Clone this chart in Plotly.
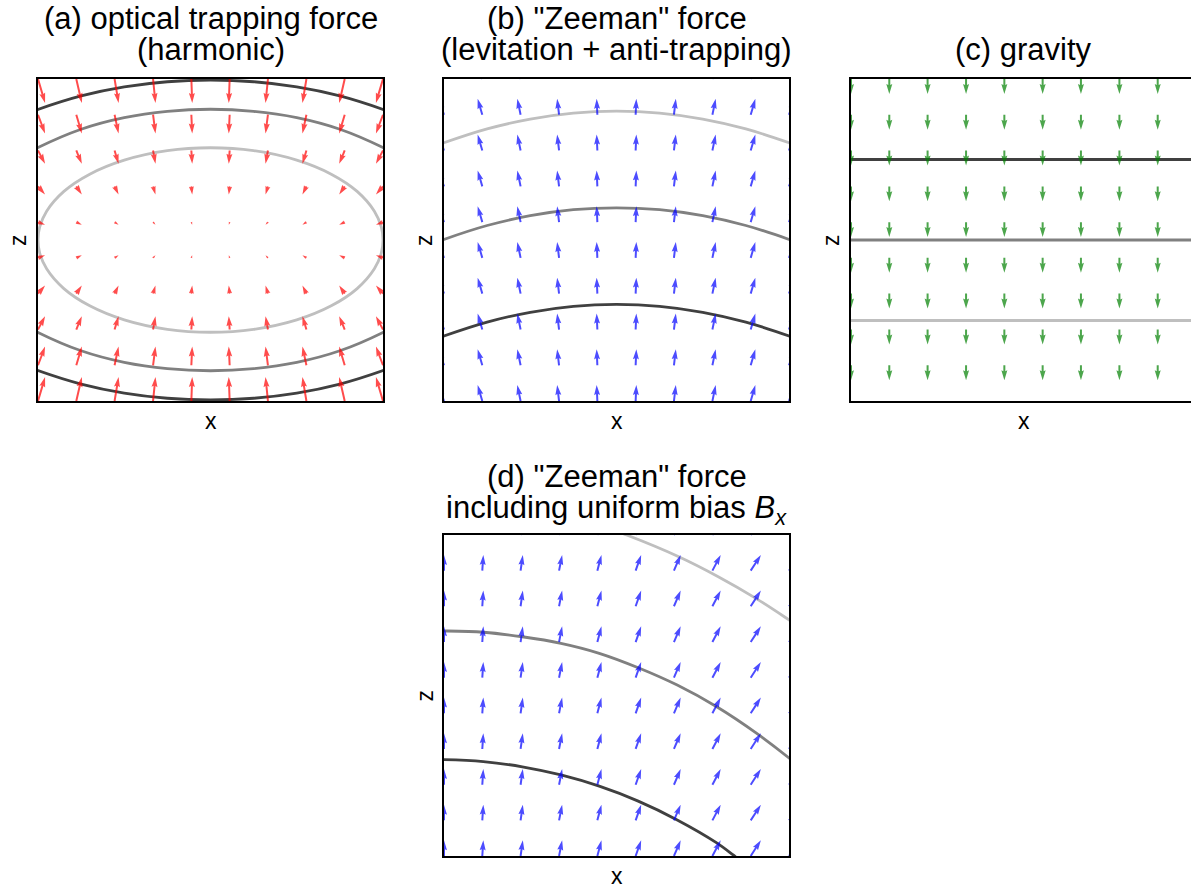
import math
import plotly.graph_objects as go

# ---------------- data ----------------
X_GRID = [-1.0, -0.778, -0.556, -0.333, -0.111, 0.111, 0.333, 0.556, 0.778, 1.0]
Z_GRID = [-1.0, -0.778, -0.556, -0.333, -0.111, 0.111, 0.333, 0.556, 0.778, 1.0]

# (a) optical trapping force (harmonic): x-component per column, z-component per row
A_FX = [0.041, 0.032, 0.023, 0.014, 0.005, -0.005, -0.014, -0.023, -0.032, -0.041]
A_FZ = [0.149, 0.116, 0.083, 0.050, 0.017, -0.017, -0.050, -0.083, -0.116, -0.149]
# (b) "Zeeman" force (levitation + anti-trapping)
B_FX = [-0.034, -0.027, -0.019, -0.011, -0.004, 0.004, 0.011, 0.019, 0.027, 0.034]
B_FZ = [0.099, 0.099, 0.099, 0.099, 0.099, 0.099, 0.099, 0.099, 0.099, 0.099]
# (c) gravity
C_FX = [0.0, 0.0, 0.0, 0.0, 0.0, 0.0, 0.0, 0.0, 0.0, 0.0]
C_FZ = [-0.093, -0.093, -0.093, -0.093, -0.093, -0.093, -0.093, -0.093, -0.093, -0.093]
# (d) "Zeeman" force including uniform bias Bx
D_FX = [0.000, 0.006, 0.013, 0.018, 0.024, 0.032, 0.039, 0.048, 0.059, 0.075]
D_FZ = [0.098, 0.098, 0.098, 0.098, 0.098, 0.098, 0.098, 0.098, 0.098, 0.098]

# contour lines (potential levels: light = low, mid, dark = high)
A_LIGHT_X = [-1.0, -0.99, -0.95, -0.85, -0.7, -0.5, -0.25, 0.0, 0.25, 0.5, 0.7, 0.85, 0.95, 0.99, 1.0,
             0.99, 0.95, 0.85, 0.7, 0.5, 0.25, 0.0, -0.25, -0.5, -0.7, -0.85, -0.95, -0.99, -1.0]
A_LIGHT_Z = [0.0, 0.081, 0.179, 0.302, 0.409, 0.496, 0.555, 0.573, 0.555, 0.496, 0.409, 0.302, 0.179, 0.081, 0.0,
             -0.081, -0.179, -0.302, -0.409, -0.496, -0.555, -0.573, -0.555, -0.496, -0.409, -0.302, -0.179, -0.081, 0.0]
A_ARC_X = [-1.05, -1.0, -0.75, -0.5, -0.25, 0.0, 0.25, 0.5, 0.75, 1.0, 1.05]
A_MID_Z = [0.544, 0.574, 0.688, 0.760, 0.799, 0.812, 0.799, 0.760, 0.688, 0.574, 0.544]
A_DARK_Z = [0.790, 0.811, 0.895, 0.951, 0.983, 0.993, 0.983, 0.951, 0.895, 0.811, 0.790]

B_ARC_X = [-1.05, -1.0, -0.75, -0.5, -0.25, 0.0, 0.25, 0.5, 0.75, 1.0, 1.05]
B_LIGHT_Z = [0.584, 0.604, 0.690, 0.751, 0.788, 0.800, 0.788, 0.751, 0.690, 0.604, 0.584]
B_MID_Z = [-0.016, 0.004, 0.090, 0.151, 0.188, 0.200, 0.188, 0.151, 0.090, 0.004, -0.016]
B_DARK_Z = [-0.616, -0.596, -0.510, -0.449, -0.412, -0.400, -0.412, -0.449, -0.510, -0.596, -0.616]

C_LINE_X = [-1.05, 1.05]
C_DARK_Z = [0.5, 0.5]
C_MID_Z = [0.0, 0.0]
C_LIGHT_Z = [-0.5, -0.5]

D_LIGHT_X = [-0.2, 0.059, 0.358, 0.590, 0.813, 1.002, 1.05]
D_LIGHT_Z = [1.098, 1.0, 0.866, 0.740, 0.602, 0.470, 0.435]
D_MID_X = [-1.05, -0.994, -0.772, -0.546, -0.322, -0.100, 0.126, 0.352, 0.581, 0.813, 1.002, 1.05]
D_MID_Z = [0.402, 0.402, 0.394, 0.366, 0.325, 0.263, 0.173, 0.065, -0.070, -0.236, -0.391, -0.435]
D_DARK_X = [-1.05, -1.0, -0.772, -0.546, -0.322, -0.100, 0.126, 0.352, 0.581, 0.674, 0.726]
D_DARK_Z = [-0.400, -0.400, -0.412, -0.444, -0.495, -0.565, -0.658, -0.775, -0.918, -0.992, -1.037]

TITLES = {
    "a": ["(a) optical trapping force", "(harmonic)"],
    "b": ["(b) \"Zeeman\" force", "(levitation + anti-trapping)"],
    "c": ["(c) gravity"],
    "d": ["(d) \"Zeeman\" force", "including uniform bias <i>B</i><sub><i>x</i></sub>"],
}

# ---------------- layout constants ----------------
W, H = 1191, 888
FONT = "Liberation Sans, Arial, Helvetica, sans-serif"
BOXES = {  # left, right, top, bottom in pixels
    "a": (38, 383, 79, 401),
    "b": (444, 789, 79, 401),
    "c": (851, 1196, 79, 401),
    "d": (444, 789, 535, 856),
}
TITLE_BASELINES = {"a": [28, 59], "b": [28, 59], "c": [59], "d": [486, 517]}
AXN = {"a": "", "b": "2", "c": "3", "d": "4"}
DARK, MID, LIGHT = "#404040", "#808080", "#bfbfbf"
ARROW_COL = {"a": "rgba(255,0,0,0.7)", "b": "rgba(0,0,255,0.7)",
             "c": "rgba(0,128,0,0.7)", "d": "rgba(0,0,255,0.7)"}
SHAFT_W, HEAD_W, HEAD_L, HEAD_AL = 2.0, 6.0, 10.0, 9.0
TITLE_SIZE, LABEL_SIZE = 31, 23

fig = go.Figure()


def scales(key):
    l, r, t, b = BOXES[key]
    return (r - l) / 2.0, (b - t) / 2.0


def add_line(key, xs, zs, color):
    n = AXN[key]
    fig.add_trace(go.Scatter(x=xs, y=zs, mode="lines", xaxis="x" + n, yaxis="y" + n,
                             line=dict(color=color, width=2.8, shape="spline", smoothing=1.0),
                             hoverinfo="skip", showlegend=False))


def add_arrows(key, fx, fz):
    n = AXN[key]
    sx, sz = scales(key)
    X, Z = [], []
    for j, z0 in enumerate(Z_GRID):
        for i, x0 in enumerate(X_GRID):
            u = fx[i] * sx
            v = fz[j] * sz
            L = math.hypot(u, v)
            if L < 0.3:
                continue
            ux, uy = u / L, v / L
            qx, qy = -uy, ux
            s = min(1.0, L / HEAD_L)
            w, hw, hl, hal = SHAFT_W * s, HEAD_W * s, HEAD_L * s, HEAD_AL * s
            pts = [(0, -w / 2), (L - hal, -w / 2), (L - hl, -hw / 2), (L, 0),
                   (L - hl, hw / 2), (L - hal, w / 2), (0, w / 2), (0, -w / 2)]
            for a, b in pts:
                X.append(x0 + (a * ux + b * qx) / sx)
                Z.append(z0 + (a * uy + b * qy) / sz)
            X.append(None)
            Z.append(None)
    fig.add_trace(go.Scatter(x=X, y=Z, mode="lines", fill="toself", fillcolor=ARROW_COL[key],
                             line=dict(width=0, color=ARROW_COL[key]), xaxis="x" + n, yaxis="y" + n,
                             hoverinfo="skip", showlegend=False))


# (a)
add_line("a", A_LIGHT_X, A_LIGHT_Z, LIGHT)
add_line("a", A_ARC_X, A_MID_Z, MID)
add_line("a", A_ARC_X, [-z for z in A_MID_Z], MID)
add_line("a", A_ARC_X, A_DARK_Z, DARK)
add_line("a", A_ARC_X, [-z for z in A_DARK_Z], DARK)
add_arrows("a", A_FX, A_FZ)
# (b)
add_line("b", B_ARC_X, B_LIGHT_Z, LIGHT)
add_line("b", B_ARC_X, B_MID_Z, MID)
add_line("b", B_ARC_X, B_DARK_Z, DARK)
add_arrows("b", B_FX, B_FZ)
# (c)
add_line("c", C_LINE_X, C_DARK_Z, DARK)
add_line("c", C_LINE_X, C_MID_Z, MID)
add_line("c", C_LINE_X, C_LIGHT_Z, LIGHT)
add_arrows("c", C_FX, C_FZ)
# (d)
add_line("d", D_LIGHT_X, D_LIGHT_Z, LIGHT)
add_line("d", D_MID_X, D_MID_Z, MID)
add_line("d", D_DARK_X, D_DARK_Z, DARK)
add_arrows("d", D_FX, D_FZ)

layout = dict(width=W, height=H, margin=dict(l=0, r=0, t=0, b=0),
              paper_bgcolor="white", plot_bgcolor="white", showlegend=False,
              font=dict(family=FONT, color="black"))
annotations = []
for key, (l, r, t, b) in BOXES.items():
    n = AXN[key]
    sx, sz = scales(key)
    x_right_px = min(r, W)
    x_hi = -1.0 + (x_right_px - l) / sx
    common = dict(showgrid=False, zeroline=False, showticklabels=False, ticks="",
                  showline=True, linecolor="black", linewidth=2)
    layout["xaxis" + n] = dict(domain=[l / W, x_right_px / W], range=[-1.0, x_hi],
                               anchor="y" + n, mirror=True, **common)
    layout["yaxis" + n] = dict(domain=[1 - b / H, 1 - t / H], range=[-1.0, 1.0],
                               anchor="x" + n, mirror=(r <= W), **common)
    cx = (l + r) / 2.0
    cy = (t + b) / 2.0
    # x label: baseline ~27 px below the box; box trimmed to the glyph area
    x_base = b + 27
    annotations.append(dict(text="x", x=cx / W, y=1 - (x_base - 0.905 * LABEL_SIZE) / H,
                            xref="paper", yref="paper", showarrow=False,
                            xanchor="center", yanchor="top", valign="top",
                            height=int(0.905 * LABEL_SIZE) + 1, borderpad=0,
                            font=dict(size=LABEL_SIZE, family=FONT)))
    annotations.append(dict(text="z", x=(l - 20) / W, y=1 - cy / H, xref="paper", yref="paper",
                            showarrow=False, xanchor="center", yanchor="middle", textangle=-90,
                            font=dict(size=LABEL_SIZE, family=FONT)))
    # titles: one text per line, top of the text box placed one ascent above the baseline
    for txt, bl in zip(TITLES[key], TITLE_BASELINES[key]):
        annotations.append(dict(text=txt, x=cx / W, y=1 - (bl - 0.905 * TITLE_SIZE) / H,
                                xref="paper", yref="paper", showarrow=False,
                                xanchor="center", yanchor="top", borderpad=0,
                                font=dict(size=TITLE_SIZE, family=FONT)))
layout["annotations"] = annotations
fig.update_layout(**layout)
fig.write_html("out.html")
